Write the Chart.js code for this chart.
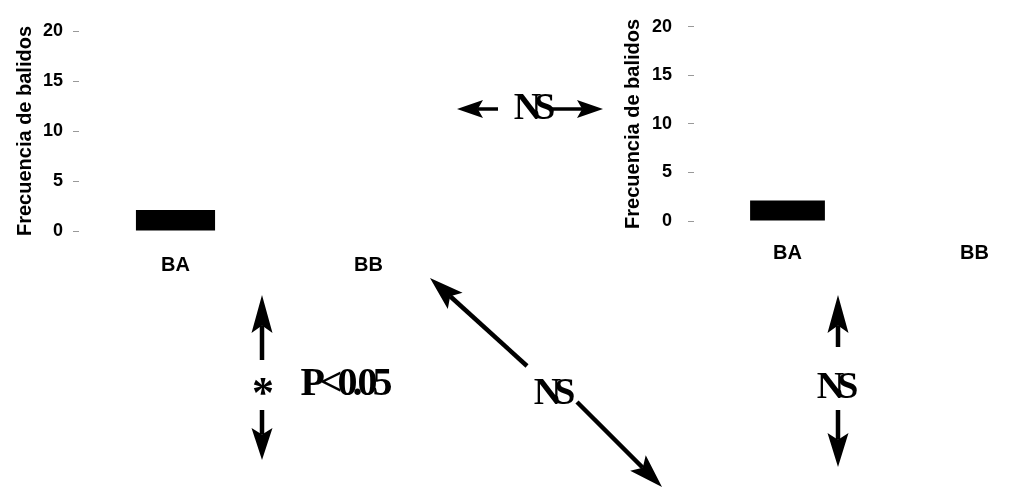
<!DOCTYPE html>
<html>
<head>
<meta charset="utf-8">
<script src="https://cdn.jsdelivr.net/npm/chart.js@4"></script>
<style>
  body { margin: 0; width: 1011px; height: 487px; overflow: hidden; background: #fff; position: relative; }
  .box { position: absolute; }
  .note {
    position: absolute;
    font-family: "Liberation Serif", "Times New Roman", serif;
    font-weight: bold;
    color: #000;
    line-height: 1;
    white-space: nowrap;
    transform: translate(-50%, -50%);
  }
  #arrows { position: absolute; left: 0; top: 0; }
</style>
</head>
<body>
<div class="box" style="left:0;top:0;width:480px;height:300px"><canvas id="leftChart"></canvas></div>
<div class="box" style="left:600px;top:0;width:480px;height:300px"><canvas id="rightChart"></canvas></div>
<svg id="arrows" width="1011" height="487"></svg>

<div class="note" style="left:531px;top:106px;font-size:38px;letter-spacing:-7px">NS</div>
<div class="note" style="left:263px;top:393px;font-size:44px">*</div>
<div class="note" style="left:344px;top:382px;font-size:40px;letter-spacing:-5px">P&lt;0.05</div>
<div class="note" style="left:551px;top:391px;font-size:38px;letter-spacing:-7px">NS</div>
<div class="note" style="left:834px;top:385px;font-size:38px;letter-spacing:-7px">NS</div>

<script>
// data
const categories = ["BA", "BB"];
const leftValues = [2.1, 0];
const rightValues = [2.1, 0];
const yTicks = [0, 5, 10, 15, 20];
const yTitle = "Frecuencia de balidos";

const sansBold = { family: "'Liberation Sans', Arial, sans-serif", weight: "bold" };

// builds one of the two small bar charts
function makeChart(id, values, cfg) {
    const ctx = document.getElementById(id).getContext("2d");
    return new Chart(ctx, {
        type: "bar",
        data: {
            labels: categories,
            datasets: [{
                label: yTitle,
                data: values,
                backgroundColor: "#000",
                borderWidth: 0,
                barPercentage: cfg.barPct,
                categoryPercentage: 1
            }]
        },
        options: {
            responsive: true,
            maintainAspectRatio: false,
            animation: false,
            layout: { padding: { top: cfg.top, right: cfg.right, left: 0, bottom: 0 } },
            plugins: { legend: { display: false }, tooltip: { enabled: false } },
            scales: {
                x: {
                    grid: { display: false, drawTicks: false },
                    border: { display: false },
                    ticks: { color: "#000", padding: cfg.xPad, font: { ...sansBold, size: 20 } },
                    afterFit: function (scale) { scale.height = cfg.xHeight; }
                },
                y: {
                    min: 0,
                    max: 20,
                    afterBuildTicks: function (scale) {
                        scale.ticks = yTicks.map(v => ({ value: v }));
                    },
                    grid: { drawOnChartArea: false, tickLength: 6, color: "#999", lineWidth: 1 },
                    border: { display: false },
                    ticks: { color: "#000", padding: cfg.yPad, font: { ...sansBold, size: 18 } },
                    title: {
                        display: true,
                        text: yTitle,
                        color: "#000",
                        font: { ...sansBold, size: 20 },
                        padding: { top: cfg.titlePad, bottom: 0 }
                    },
                    afterFit: function (scale) { scale.width = cfg.yWidth; }
                }
            }
        }
    });
}

makeChart("leftChart", leftValues, {
    top: 31, right: 15, xHeight: 69, yWidth: 79, yPad: 10, titlePad: 13, xPad: 22, barPct: 0.41
});
makeChart("rightChart", rightValues, {
    top: 17, right: 12, xHeight: 79, yWidth: 94, yPad: 16, titlePad: 21, xPad: 20, barPct: 0.40
});

// significance arrows
const svgNS = "http://www.w3.org/2000/svg";
const svg = document.getElementById("arrows");

function arrow(x1, y1, x2, y2, headLen, headW, stroke) {
    const dx = x2 - x1, dy = y2 - y1;
    const len = Math.sqrt(dx * dx + dy * dy);
    const ux = dx / len, uy = dy / len;
    const px = -uy, py = ux;
    const bx = x2 - ux * headLen, by = y2 - uy * headLen;
    const nx = x2 - ux * headLen * 0.8, ny = y2 - uy * headLen * 0.8;

    const line = document.createElementNS(svgNS, "line");
    line.setAttribute("x1", x1);
    line.setAttribute("y1", y1);
    line.setAttribute("x2", nx);
    line.setAttribute("y2", ny);
    line.setAttribute("stroke", "#000");
    line.setAttribute("stroke-width", stroke);
    svg.appendChild(line);

    const head = document.createElementNS(svgNS, "polygon");
    const pts = [
        [x2, y2],
        [bx + px * headW / 2, by + py * headW / 2],
        [nx, ny],
        [bx - px * headW / 2, by - py * headW / 2]
    ];
    head.setAttribute("points", pts.map(p => p.join(",")).join(" "));
    head.setAttribute("fill", "#000");
    svg.appendChild(head);
}

arrow(498, 109, 457, 109, 26, 18, 3.5);
arrow(552, 109, 603, 109, 26, 18, 3.5);
arrow(262, 360, 262, 295, 38, 21, 4.5);
arrow(262, 410, 262, 460, 32, 21, 4.5);
arrow(527, 366, 430, 278, 34, 22, 4.5);
arrow(577, 402, 662, 487, 34, 22, 4.5);
arrow(838, 347, 838, 295, 38, 21, 4.5);
arrow(838, 410, 838, 467, 34, 21, 4.5);
</script>
</body>
</html>
